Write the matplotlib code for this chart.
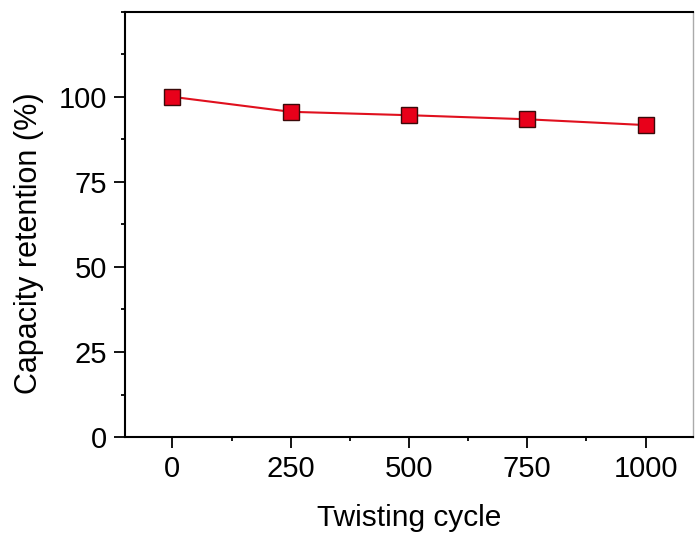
import matplotlib
matplotlib.use('Agg')
import matplotlib.pyplot as plt
from matplotlib.ticker import MultipleLocator

plt.rcParams['font.family'] = ['Liberation Sans', 'DejaVu Sans']

cycles = [0, 250, 500, 750, 1000]
retention = [100, 95.6, 94.6, 93.4, 91.7]

fig = plt.figure(figsize=(6.95, 5.35), dpi=100)
ax = fig.add_axes([0.180, 0.183, 0.817, 0.795])

ax.plot(cycles, retention, color='#e0101e', lw=1.5, marker='s', ms=11.5,
        mfc='#e8001a', mec='#3a0a0a', mew=1.0)

ax.set_xlim(-100, 1100)
ax.set_ylim(0, 125)
ax.xaxis.set_major_locator(MultipleLocator(250))
ax.xaxis.set_minor_locator(MultipleLocator(125))
ax.yaxis.set_major_locator(MultipleLocator(25))
ax.yaxis.set_minor_locator(MultipleLocator(12.5))
ax.set_yticks([0, 25, 50, 75, 100])

ax.tick_params(which='major', direction='out', length=8, width=1.3, labelsize=21, pad=5)
ax.tick_params(which='minor', direction='out', length=3, width=1.3)
ax.tick_params(top=False, right=False)
for s in ax.spines.values():
    s.set_linewidth(1.5)
ax.spines['right'].set_color('#aaaaaa')
ax.spines['right'].set_linewidth(1.0)

ax.set_xlabel('Twisting cycle', fontsize=21.5, labelpad=15)
ax.set_ylabel('Capacity retention (%)', fontsize=22)
ax.yaxis.set_label_coords(-0.143, 0.457)

fig.savefig('out.png', dpi=100)
